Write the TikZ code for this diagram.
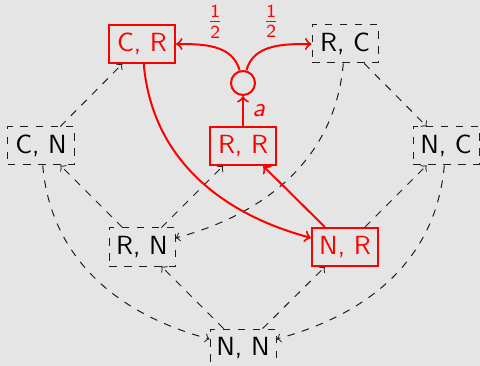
\documentclass[tikz,border=0pt]{standalone}
\usepackage{amsmath}
\definecolor{bg}{RGB}{229,229,229}
\definecolor{dk}{RGB}{30,30,30}
\tikzset{
  base/.style={font=\sffamily\fontsize{10.5}{12}\selectfont, minimum width=26.4pt, minimum height=15.2pt, inner sep=0pt},
  st/.style={base, draw=dk, dashed, line width=0.4pt, text=black},
  rst/.style={base, draw=red, line width=0.8pt, text=red},
  dl/.style={draw=dk, dashed, line width=0.4pt, ->},
  rl/.style={draw=red, line width=0.8pt, ->},
  lbl/.style={text=red, font=\sffamily\fontsize{10.5}{12}\selectfont},
}
\begin{document}
\begin{tikzpicture}[x=0.4pt, y=-0.4pt]
\fill[bg] (0,0) rectangle (480,366);
\useasboundingbox (0,0) rectangle (480,366);
\node[rst] (CR) at (142,44) {C, R};
\node[st]  (RC) at (345,44) {R, C};
\node[draw=red, line width=0.8pt, circle, minimum size=9.6pt, inner sep=0pt] (circ) at (243,83) {};
\node[rst] (RR) at (243,146) {R, R};
\node[st]  (CN) at (41,146) {C, N};
\node[st]  (NC) at (446,146) {N, C};
\node[st]  (RN) at (142,247) {R, N};
\node[rst] (NR) at (345,247) {N, R};
\node[st]  (NN) at (243,348) {N, N};
% dashed transitions
\draw[dl] (CN) -- (CR);
\draw[dl] (RN) -- (CN);
\draw[dl] (RN) -- (RR);
\draw[dl] (RC) to[out=-95, in=15] (RN);
\draw[dl] (RC) -- (NC);
\draw[dl] (NR) -- (NC);
\draw[dl] (NC) to[out=-95, in=15] (NN);
\draw[dl] (CN) to[out=-85, in=165] (NN);
\draw[dl] (NN) -- (RN);
\draw[dl] (NN) -- (NR);
% red transitions
\draw[rl] (RR) -- node[lbl, right] {\itshape a} (circ);
\draw[rl] (circ) to[out=105, in=0] node[lbl, above] {$\frac{\textsf{1}}{\textsf{2}}$} (CR);
\draw[rl] (circ) to[out=75, in=180] node[lbl, above] {$\frac{\textsf{1}}{\textsf{2}}$} (RC);
\draw[rl] (CR) to[out=-85, in=165] (NR);
\draw[rl] (NR) -- (RR);
\end{tikzpicture}
\end{document}
